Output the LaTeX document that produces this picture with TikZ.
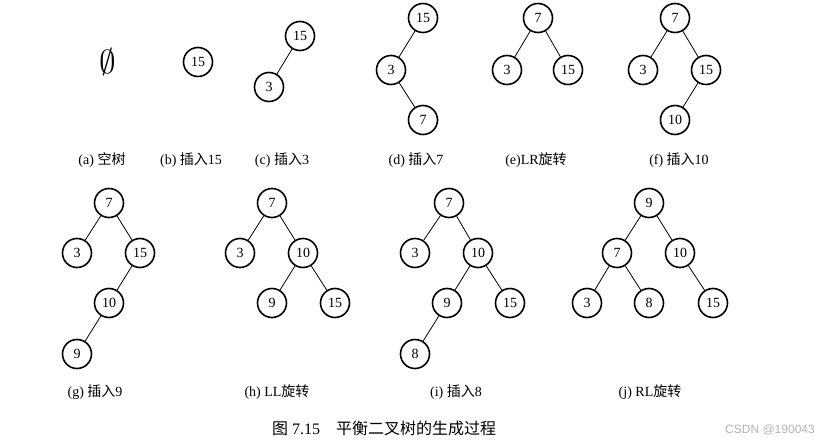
\documentclass[tikz,border=0pt]{standalone}
\usepackage{fontspec}
\setmainfont{Liberation Serif}
\newfontfamily\cjk{Noto Sans CJK SC}
\newfontfamily\wmfont{Liberation Sans}
\tikzset{
  vtx/.style={circle,draw,line width=1.6pt,minimum size=29pt,inner sep=0pt,
              font=\fontsize{14}{14}\selectfont},
  lbl/.style={font=\fontsize{14}{14}\selectfont,inner sep=0pt},
  arc/.style={line width=0.8pt}
}
\begin{document}
\begin{tikzpicture}[x=1pt,y=-1pt]
    \useasboundingbox (0,0) rectangle (836,446);
    % (a) empty tree
    \node[inner sep=0pt,scale=1.6,font=\fontsize{20}{20}\selectfont] (aE) at (108,62) {$\emptyset$};
    % (b) insert 15
    \node[vtx] (b15) at (198,62) {15};
    % (c) insert 3
    \node[vtx] (c15) at (300,36) {15};
    \node[vtx] (c3) at (269,87) {3};
    \draw[arc] (c15) -- (c3);
    % (d) insert 7
    \node[vtx] (d15) at (423,18) {15};
    \node[vtx] (d3) at (391,70) {3};
    \node[vtx] (d7) at (423,120) {7};
    \draw[arc] (d15) -- (d3);
    \draw[arc] (d3) -- (d7);
    % (e) LR rotation
    \node[vtx] (e7) at (538,18) {7};
    \node[vtx] (e3) at (507,70) {3};
    \node[vtx] (e15) at (568,70) {15};
    \draw[arc] (e7) -- (e3);
    \draw[arc] (e7) -- (e15);
    % (f) insert 10
    \node[vtx] (f7) at (675,18) {7};
    \node[vtx] (f3) at (643,70) {3};
    \node[vtx] (f15) at (706,70) {15};
    \node[vtx] (f10) at (675,120) {10};
    \draw[arc] (f7) -- (f3);
    \draw[arc] (f7) -- (f15);
    \draw[arc] (f15) -- (f10);
    % (g) insert 9
    \node[vtx] (g7) at (109,203) {7};
    \node[vtx] (g3) at (77,253) {3};
    \node[vtx] (g15) at (140,253) {15};
    \node[vtx] (g10) at (109,303) {10};
    \node[vtx] (g9) at (77,354) {9};
    \draw[arc] (g7) -- (g3);
    \draw[arc] (g7) -- (g15);
    \draw[arc] (g15) -- (g10);
    \draw[arc] (g10) -- (g9);
    % (h) LL rotation
    \node[vtx] (h7) at (272,203) {7};
    \node[vtx] (h3) at (240,253) {3};
    \node[vtx] (h10) at (303,253) {10};
    \node[vtx] (h9) at (272,303) {9};
    \node[vtx] (h15) at (335,303) {15};
    \draw[arc] (h7) -- (h3);
    \draw[arc] (h7) -- (h10);
    \draw[arc] (h10) -- (h9);
    \draw[arc] (h10) -- (h15);
    % (i) insert 8
    \node[vtx] (i7) at (449,203) {7};
    \node[vtx] (i3) at (415,253) {3};
    \node[vtx] (i10) at (478,253) {10};
    \node[vtx] (i9) at (447,303) {9};
    \node[vtx] (i15) at (510,303) {15};
    \node[vtx] (i8) at (415,354) {8};
    \draw[arc] (i7) -- (i3);
    \draw[arc] (i7) -- (i10);
    \draw[arc] (i10) -- (i9);
    \draw[arc] (i10) -- (i15);
    \draw[arc] (i9) -- (i8);
    % (j) RL rotation
    \node[vtx] (j9) at (649,203) {9};
    \node[vtx] (j7) at (617,253) {7};
    \node[vtx] (j10) at (680,253) {10};
    \node[vtx] (j3) at (587,303) {3};
    \node[vtx] (j8) at (649,303) {8};
    \node[vtx] (j15) at (713,303) {15};
    \draw[arc] (j9) -- (j7);
    \draw[arc] (j9) -- (j10);
    \draw[arc] (j7) -- (j3);
    \draw[arc] (j7) -- (j8);
    \draw[arc] (j10) -- (j15);
    % captions of the parts
    \node[lbl] (aL) at (102,160) {(a) {\cjk 空树}};
    \node[lbl] (bL) at (191,160) {(b) {\cjk 插入}15};
    \node[lbl] (cL) at (282,160) {(c) {\cjk 插入}3};
    \node[lbl] (dL) at (416,160) {(d) {\cjk 插入}7};
    \node[lbl] (eL) at (536,160) {(e)LR{\cjk 旋转}};
    \node[lbl] (fL) at (679,160) {(f) {\cjk 插入}10};
    \node[lbl] (gL) at (95,392) {(g) {\cjk 插入}9};
    \node[lbl] (hL) at (277,392) {(h) LL{\cjk 旋转}};
    \node[lbl] (iL) at (456,392) {(i) {\cjk 插入}8};
    \node[lbl] (jL) at (650,392) {(j) RL{\cjk 旋转}};
    % figure title
    \node[anchor=west,inner sep=0pt,font=\fontsize{16}{16}\selectfont] (title) at (272,428)
        {{\cjk 图} 7.15\quad {\cjk 平衡二叉树的生成过程}};
    \node[anchor=east,inner sep=0pt,text=gray!60,font=\wmfont\fontsize{12}{12}\selectfont] (mark) at (815,430)
        {CSDN @190043};
\end{tikzpicture}
\end{document}
